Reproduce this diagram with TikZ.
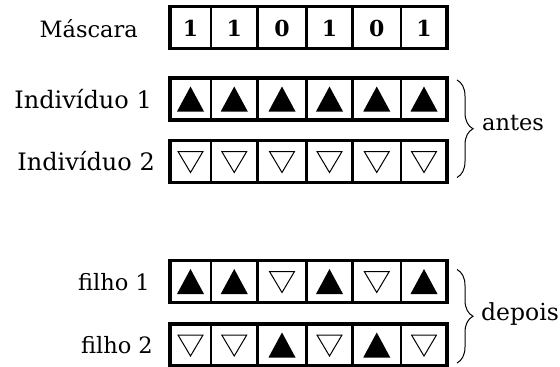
\documentclass[tikz,border=0pt]{standalone}
\usepackage{fontspec}
\setmainfont{DejaVu Serif}
\usetikzlibrary{calc,decorations.pathreplacing}
\begin{document}
\begin{tikzpicture}[x=1pt,y=-1pt,
  rowframe/.style={draw,line width=3.5pt,minimum height=42pt,minimum width=277pt,
    inner sep=0pt,outer sep=0pt},
  cell/.style={draw,line width=2.5pt,minimum height=42pt,inner sep=0pt,outer sep=0pt},
  rowlabel/.style={anchor=base east,inner sep=0pt,font=\fontsize{22.5}{22.5}\selectfont},
  sidelabel/.style={anchor=base west,inner sep=0pt,font=\fontsize{22.5}{22.5}\selectfont},
  bit/.style={inner sep=0pt,font=\bfseries\fontsize{22}{22}\selectfont},
  uptri/.style={fill=black},
  downtri/.style={draw=black,line width=1pt,line join=miter},
  group/.style={draw,line width=1pt,decorate,decoration={brace,amplitude=16pt}}]
\useasboundingbox (0,0) rectangle (560,367);

% five rows of six cells: mask, two parents, two children
\foreach \r/\y in {m/27.5, a/99, b/161.5, f/281.5, g/345}{
  \foreach \i/\cx/\w in {1/190.5/41, 2/234.25/46.5, 3/282/49, 4/329.5/46, 5/376.75/48.5, 6/424/46}
    \node[cell,minimum width=\w pt] (\r\i) at (\cx,\y) {};
  \node[rowframe] (\r) at (308.5,\y) {};
}

% mask bits
\foreach \i/\v in {1/1,2/1,3/0,4/1,5/0,6/1}
  \node[bit] (mt\i) at ($(m\i)+(0,1)$) {\v};

% genes: filled up triangles and open down triangles
\foreach \c in {a1,a2,a3,a4,a5,a6,f1,f2,f4,f6,g3,g5}
  \fill[uptri] ($(\c)+(-13.5,12.5)$) -- ($(\c)+(13.5,12.5)$) -- ($(\c)+(0,-12.5)$) -- cycle;
\foreach \c in {b1,b2,b3,b4,b5,b6,f3,f5,g1,g2,g4,g6}
  \draw[downtri] ($(\c)+(-12.5,-10)$) -- ($(\c)+(12.5,-10)$) -- ($(\c)+(0,11)$) -- cycle;

% row labels
\node[rowlabel] (lm) at (138,37) {Máscara};
\node[rowlabel,font=\fontsize{24}{24}\selectfont] (la) at (152,108) {Indivíduo 1};
\node[rowlabel,font=\fontsize{24}{24}\selectfont] (lb) at (155,170) {Indivíduo 2};
\node[rowlabel] (lf) at (150,290) {filho 1};
\node[rowlabel] (lg) at (153,353) {filho 2};

% group braces
\draw[group] ($(a.north east)+(10,2)$) -- ($(b.south east)+(10,-5)$);
\draw[group] ($(f.north east)+(10,9)$) -- ($(g.south east)+(10,-3)$);
\node[sidelabel] (antes) at (482,130) {antes};
\node[sidelabel,font=\fontsize{23.5}{23.5}\selectfont] (depois) at (481,320) {depois};
\end{tikzpicture}
\end{document}
